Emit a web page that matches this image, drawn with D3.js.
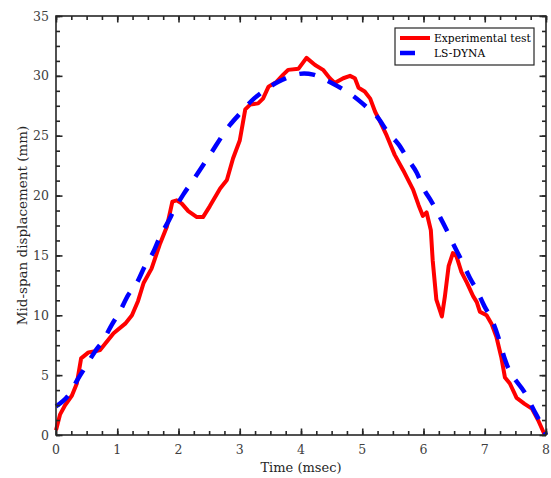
<!DOCTYPE html>
<html>
<head>
<meta charset="utf-8">
<script src="https://cdn.jsdelivr.net/npm/d3@7"></script>
<style>
  body { margin: 0; background: #fff; }
  text { font-family: "DejaVu Serif", "Liberation Serif", serif; }
</style>
</head>
<body>
<svg id="chart" width="551" height="478"></svg>
<script>
// Experimental test (time in msec, displacement in mm)
var expTime = [0, 0.065, 0.15, 0.26, 0.34, 0.41, 0.53, 0.64, 0.72, 0.94, 1.13, 1.24, 1.34, 1.43, 1.56, 1.70, 1.81, 1.90, 1.97, 2.05, 2.16, 2.30, 2.40, 2.51, 2.68, 2.79, 2.89, 3.0, 3.09, 3.17, 3.30, 3.38, 3.47, 3.60, 3.71, 3.79, 3.96, 4.09, 4.23, 4.36, 4.47, 4.55, 4.69, 4.80, 4.88, 4.94, 5.04, 5.13, 5.21, 5.29, 5.40, 5.53, 5.67, 5.83, 5.92, 5.99, 6.05, 6.12, 6.15, 6.21, 6.30, 6.35, 6.41, 6.48, 6.54, 6.62, 6.71, 6.81, 6.87, 6.92, 7.03, 7.11, 7.19, 7.27, 7.33, 7.41, 7.52, 7.65, 7.77, 7.87, 7.98]
var expDisp = [0.4, 1.7, 2.5, 3.3, 4.3, 6.4, 6.9, 7.0, 7.1, 8.5, 9.3, 10.0, 11.2, 12.7, 13.9, 16.0, 17.4, 19.5, 19.6, 19.35, 18.7, 18.2, 18.2, 19.1, 20.6, 21.3, 23.1, 24.6, 27.2, 27.6, 27.7, 28.1, 29.1, 29.5, 30.1, 30.5, 30.6, 31.5, 30.9, 30.5, 29.8, 29.4, 29.8, 30.0, 29.8, 29.0, 28.7, 28.1, 27.0, 26.2, 25.0, 23.4, 22.1, 20.5, 19.2, 18.3, 18.6, 17.1, 14.6, 11.3, 9.9, 11.6, 14.1, 15.2, 14.9, 13.6, 12.7, 11.6, 11.1, 10.3, 10.0, 9.3, 8.2, 6.5, 4.8, 4.3, 3.1, 2.6, 2.2, 1.25, 0]

// LS-DYNA simulation
var dynaTime = [0, 0.2, 0.36, 0.47, 0.64, 0.77, 0.91, 1.04, 1.18, 1.32, 1.45, 1.59, 1.70, 1.83, 1.94, 2.08, 2.24, 2.5, 2.84, 3.03, 3.19, 3.38, 3.63, 3.85, 4.05, 4.20, 4.39, 4.61, 4.83, 5.07, 5.24, 5.43, 5.59, 5.75, 5.89, 6.0, 6.13, 6.27, 6.38, 6.51, 6.62, 6.76, 6.87, 7.0, 7.11, 7.22, 7.33, 7.68, 7.79, 7.93, 8.0]
var dynaDisp = [2.4, 3.3, 4.7, 5.6, 7.0, 7.9, 9.2, 10.3, 11.7, 12.7, 14.1, 15.3, 16.6, 17.8, 18.9, 20.1, 21.3, 23.3, 25.9, 27.0, 27.9, 28.7, 29.5, 30.0, 30.2, 30.1, 29.7, 29.1, 28.4, 27.4, 26.6, 25.2, 24.3, 23.0, 21.9, 20.6, 19.5, 18.2, 17.1, 15.7, 14.6, 13.1, 12.1, 10.7, 9.7, 8.2, 6.3, 3.3, 2.2, 0.8, 0]

var seriesNames = ['Experimental test', 'LS-DYNA']
var xTicks = [0, 1, 2, 3, 4, 5, 6, 7, 8]
var yTicks = [0, 5, 10, 15, 20, 25, 30, 35]

function drawChart () {
  var svg = d3.select('#chart')
  var margin = { top: 16, left: 56, bottom: 43, right: 5 }
  var width = +svg.attr('width')
  var height = +svg.attr('height')
  var chartWidth = width - margin.left - margin.right
  var chartHeight = height - margin.top - margin.bottom
  var axisColor = '#262626'

  var x = d3.scaleLinear().domain([0, 8]).range([0, chartWidth])
  var y = d3.scaleLinear().domain([0, 35]).range([chartHeight, 0])

  var g = svg.append('g')
    .attr('transform', 'translate(' + margin.left + ',' + margin.top + ')')

  g.append('clipPath').attr('id', 'plotClip')
    .append('rect')
    .attr('x', -3).attr('y', -3)
    .attr('width', chartWidth + 6).attr('height', chartHeight + 6)

  var expData = expTime.map(function (t, i) { return { t: t, v: expDisp[i] } })
  var dynaData = dynaTime.map(function (t, i) { return { t: t, v: dynaDisp[i] } })

  var lines = g.append('g').attr('clip-path', 'url(#plotClip)')

  lines.append('path')
    .datum(expData)
    .attr('fill', 'none')
    .attr('stroke', '#ff0000')
    .attr('stroke-width', 4)
    .attr('stroke-linejoin', 'round')
    .attr('d', d3.line()
      .x(function (d) { return x(d.t) })
      .y(function (d) { return y(d.v) }))

  lines.append('path')
    .datum(dynaData)
    .attr('fill', 'none')
    .attr('stroke', '#0000ff')
    .attr('stroke-width', 4.5)
    .attr('stroke-dasharray', '16,14')
    .attr('d', d3.line()
      .x(function (d) { return x(d.t) })
      .y(function (d) { return y(d.v) })
      .curve(d3.curveMonotoneX))

  // axes with inward ticks on all four sides
  var xMinor = d3.range(0, 8.001, 0.25)
  var yMinor = d3.range(0, 35.001, 1.25)

  function tickStyle (sel) {
    sel.select('.domain').remove()
    sel.selectAll('line').attr('stroke', axisColor).attr('stroke-width', 1.6)
    sel.selectAll('text').remove()
  }

  g.append('g').attr('transform', 'translate(0,' + chartHeight + ')')
    .call(d3.axisTop(x).tickValues(xMinor).tickSize(4)).call(tickStyle)
  g.append('g').attr('transform', 'translate(0,' + chartHeight + ')')
    .call(d3.axisTop(x).tickValues(xTicks).tickSize(6.5)).call(tickStyle)
  g.append('g')
    .call(d3.axisBottom(x).tickValues(xMinor).tickSize(4)).call(tickStyle)
  g.append('g')
    .call(d3.axisBottom(x).tickValues(xTicks).tickSize(6.5)).call(tickStyle)
  g.append('g')
    .call(d3.axisRight(y).tickValues(yMinor).tickSize(4)).call(tickStyle)
  g.append('g')
    .call(d3.axisRight(y).tickValues(yTicks).tickSize(6.5)).call(tickStyle)
  g.append('g').attr('transform', 'translate(' + chartWidth + ',0)')
    .call(d3.axisLeft(y).tickValues(yMinor).tickSize(4)).call(tickStyle)
  g.append('g').attr('transform', 'translate(' + chartWidth + ',0)')
    .call(d3.axisLeft(y).tickValues(yTicks).tickSize(6.5)).call(tickStyle)

  g.append('rect')
    .attr('width', chartWidth).attr('height', chartHeight)
    .attr('fill', 'none').attr('stroke', axisColor).attr('stroke-width', 1.6)

  // tick labels
  g.selectAll('.xlab').data(xTicks).enter().append('text')
    .attr('x', function (d) { return x(d) })
    .attr('y', chartHeight + 19)
    .attr('text-anchor', 'middle')
    .attr('font-size', 12.5)
    .attr('fill', '#404040')
    .text(function (d) { return d })

  g.selectAll('.ylab').data(yTicks).enter().append('text')
    .attr('x', -7)
    .attr('y', function (d) { return y(d) + 4.5 })
    .attr('text-anchor', 'end')
    .attr('font-size', 12.5)
    .attr('fill', '#404040')
    .text(function (d) { return d })

  // axis titles
  g.append('text')
    .attr('x', chartWidth / 2)
    .attr('y', chartHeight + 37)
    .attr('text-anchor', 'middle')
    .attr('font-size', 13)
    .attr('fill', '#262626')
    .text('Time (msec)')

  g.append('text')
    .attr('transform', 'translate(' + (-29) + ',' + (chartHeight / 2) + ') rotate(-90)')
    .attr('text-anchor', 'middle')
    .attr('font-size', 13.5)
    .attr('fill', '#262626')
    .text('Mid-span displacement (mm)')

  // legend
  var legend = svg.append('g').attr('transform', 'translate(395,28)')
  legend.append('rect')
    .attr('width', 139).attr('height', 37)
    .attr('fill', '#fff').attr('stroke', axisColor).attr('stroke-width', 1.2)
  var colors = ['#ff0000', '#0000ff']
  var lens = [30, 15]
  seriesNames.forEach(function (name, i) {
    legend.append('line')
      .attr('x1', 5).attr('x2', 5 + lens[i])
      .attr('y1', 10 + i * 15).attr('y2', 10 + i * 15)
      .attr('stroke', colors[i]).attr('stroke-width', i === 0 ? 4 : 4.5)
    legend.append('text')
      .attr('x', 39).attr('y', 14 + i * 15)
      .attr('font-size', 10.7)
      .attr('fill', '#000')
      .text(name)
  })
}

drawChart()
</script>
</body>
</html>
